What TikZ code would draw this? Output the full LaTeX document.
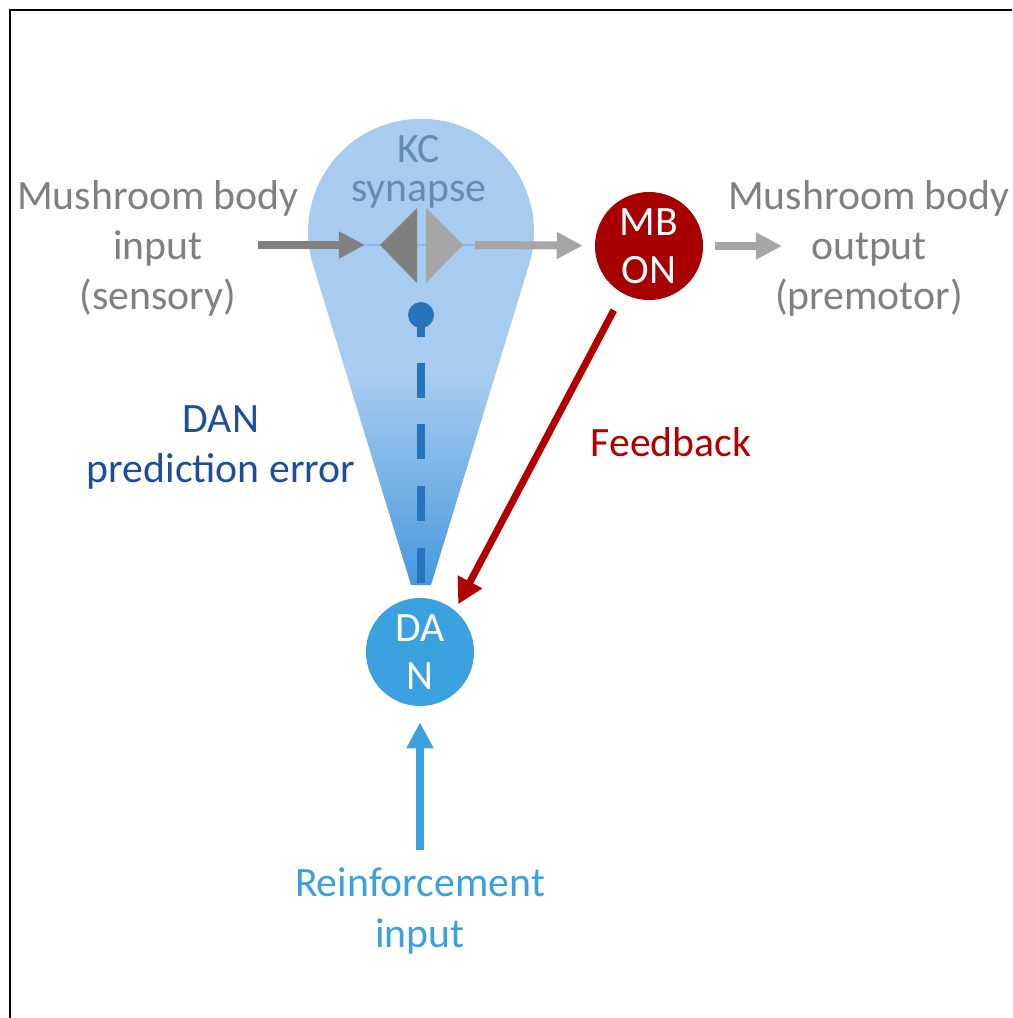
\documentclass[tikz,border=0pt]{standalone}
\usepackage{fontspec}
\setmainfont{Carlito}
\usepackage{xcolor}
\usepackage{tikz}
\usetikzlibrary{arrows.meta}

\definecolor{textgrey}{RGB}{128,128,128}
\definecolor{kcgrey}{RGB}{127,127,127}
\definecolor{outgrey}{RGB}{166,166,166}
\definecolor{mbonred}{RGB}{166,0,0}
\definecolor{fbred}{RGB}{178,0,0}
\definecolor{danblue}{RGB}{58,160,222}
\definecolor{errblue}{RGB}{31,78,153}
\definecolor{kcblue}{RGB}{98,140,183}
\definecolor{axonblue}{RGB}{140,182,228}
\definecolor{dashblue}{RGB}{38,116,188}
\definecolor{droplight}{RGB}{168,204,240}
\definecolor{dropdark}{RGB}{72,153,220}

% light on top, darker towards the DAN
\pgfdeclareverticalshading{dropshade}{100bp}{color(0bp)=(dropdark); color(25bp)=(dropdark); color(47bp)=(droplight); color(100bp)=(droplight)}

\begin{document}
\begin{tikzpicture}[x=0.025cm, y=0.025cm,
    lbl/.style={align=center, font=\fontsize{29.7}{35.6}\selectfont},
    cell/.style={circle, minimum size=2.7cm, inner sep=0pt, text=white, align=center,
      font=\fontsize{29.7}{33.8}\selectfont},
    fat/.style={line width=5.7pt, -{Triangle[length=18.5pt,width=18pt]}}]
        \useasboundingbox (0,0) rectangle (1012,-1018);

        % Frame
        \draw[line width=1.8pt] (10,-1018) -- (10,-10) -- (1012,-10);

        % DAN field of influence
        \shade[shading=dropshade] (411,-585) -- (314,-268)
            arc[start angle=198.7, end angle=-18.7, radius=113] -- (431,-585) -- cycle;

        % KC axon
        \coordinate (insrc) at (258,-245);
        \coordinate (intip) at (365,-245);
        \coordinate (outstart) at (475,-245);
        \draw[axonblue, line width=1pt] (intip) -- (outstart);

        % Synapse
        \fill[kcgrey] (380,-245) -- (417,-208) -- (417,-283) -- cycle;
        \fill[outgrey] (426,-208) -- (463,-245) -- (426,-283) -- cycle;
        \node[lbl, kcblue, font=\fontsize{29.7}{27.5}\selectfont] (kc) at (419,-172) {KC\\synapse};

        % Cells
        \node[cell, fill=mbonred] (mbon) at (649,-246) {MB\\ON};
        \node[cell, fill=danblue] (dan) at (420,-652) {DA\\N};

        % Dopamine release site
        \node[circle, fill=dashblue, minimum size=0.65cm, inner sep=0pt] (ball) at (421,-315) {};
        \coordinate (dantop) at (421,-583);
        \draw[dashblue, line width=5.7pt,
            dash pattern=on 15.6pt off 18.5pt on 25pt off 18.5pt on 25pt off 19pt on 25pt off 19pt on 25pt]
            (ball.center) -- (dantop);

        % Labels
        \node[lbl, textgrey] (inlabel) at (158,-248) {Mushroom body\\input\\(sensory)};
        \node[lbl, textgrey] (outlabel) at (869,-248) {Mushroom body\\output\\(premotor)};
        \node[lbl, errblue] (errlabel) at (221,-447) {DAN\\prediction error};
        \node[lbl, fbred] (fblabel) at (671,-442) {Feedback};
        \node[lbl, danblue] (reinlabel) at (420,-911) {Reinforcement\\input};

        % Signal flow
        \coordinate (outend) at (782,-246);
        \coordinate (rsrc) at (420,-850);
        \draw[fat, textgrey] (insrc) -- (intip);
        \draw[fat, outgrey, shorten >=8.5pt] (outstart) -- (mbon);
        \draw[fat, outgrey, shorten <=8.5pt] (mbon) -- (outend);
        \draw[fat, danblue, shorten >=11.4pt] (rsrc) -- (dan);
        \draw[fbred, line width=5pt, -{Triangle[length=18pt,width=18.5pt]},
            shorten <=13.5pt, shorten >=5pt] (mbon.241) -- (dan.50);
    \end{tikzpicture}
\end{document}
